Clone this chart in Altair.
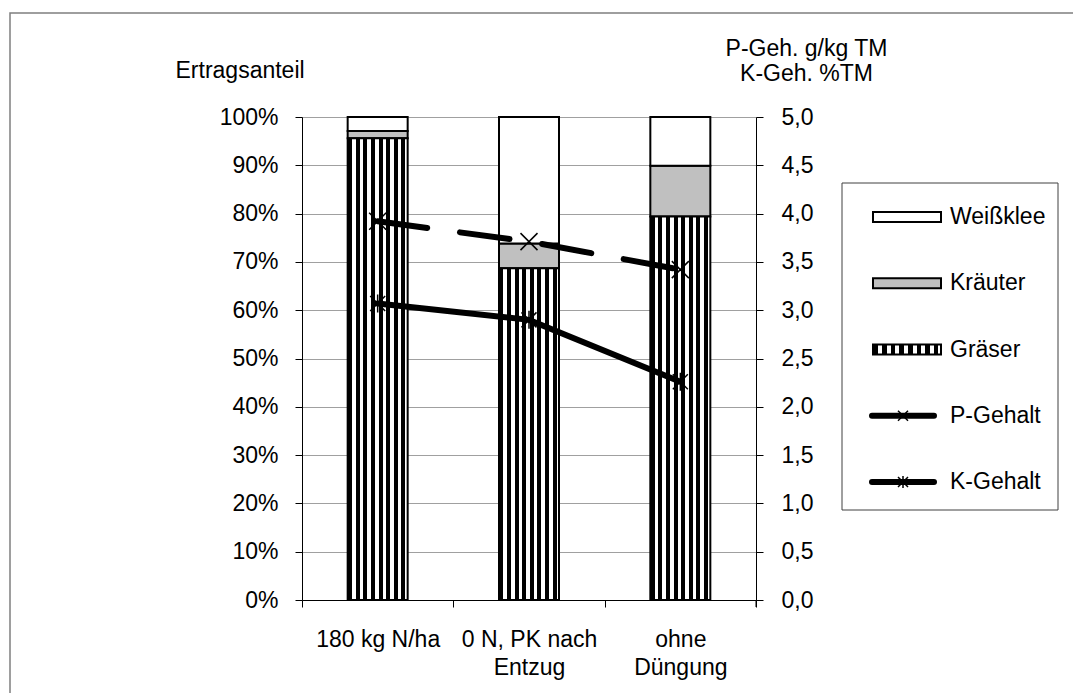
import altair as alt
import pandas as pd

# ---------------- data ----------------
categories = ["180 kg N/ha", "0 N, PK nach Entzug", "ohne Düngung"]
components = ["Gräser", "Kräuter", "Weißklee"]
graeser = [0.956, 0.687, 0.794]
kraeuter = [0.015, 0.051, 0.105]
weissklee = [0.029, 0.262, 0.101]
p_gehalt = [3.92, 3.71, 3.42]
k_gehalt = [3.07, 2.90, 2.26]
legend_items = ["Weißklee", "Kräuter", "Gräser", "P-Gehalt", "K-Gehalt"]
left_ticks = [0.0, 0.1, 0.2, 0.3, 0.4, 0.5, 0.6, 0.7, 0.8, 0.9, 1.0]
right_ticks = [0.0, 0.5, 1.0, 1.5, 2.0, 2.5, 3.0, 3.5, 4.0, 4.5, 5.0]

rows = []
for i, c in enumerate(categories):
    base = 0.0
    for comp, vals in zip(components, [graeser, kraeuter, weissklee]):
        rows.append({"cat": c, "comp": comp, "start": base, "end": base + vals[i]})
        base += vals[i]
bars_df = pd.DataFrame(rows)
lines_df = pd.DataFrame({"cat": categories, "P": p_gehalt, "K": k_gehalt})
leg_df = pd.DataFrame({"name": legend_items, "i": list(range(len(legend_items)))})
one = pd.DataFrame({"a": [0]})

# ---------------- styling ----------------
FONT = "Liberation Sans"
FS = 23
W, H = 454, 483
PAD = {"left": 302, "top": 117, "right": 1073 - 302 - W, "bottom": 693 - 117 - H}

stops = [alt.GradientStop(offset=0, color="white")]
for k in range(8):
    a = (0.5 + 7.6 * k) / 60
    b = (4.5 + 7.6 * k) / 60
    stops += [alt.GradientStop(offset=a, color="white"), alt.GradientStop(offset=a, color="black"),
              alt.GradientStop(offset=b, color="black"), alt.GradientStop(offset=b, color="white")]
stops.append(alt.GradientStop(offset=1, color="white"))
STRIPES = alt.LinearGradient(gradient="linear", stops=stops, x1=0, x2=1, y1=0, y2=0)

XSHAPE = "M-1,-1L1,1M-1,1L1,-1"
STAR = "M-1,-1L1,1M-1,1L1,-1M0,-1.2L0,1.2"
RECT = "M-1,-0.147L1,-0.147L1,0.147L-1,0.147Z"
LINE = "M-1,0L1,0"

label_expr = ("datum.value == '0 N, PK nach Entzug' ? ['0 N, PK nach', 'Entzug'] : "
              "datum.value == 'ohne Düngung' ? ['ohne', 'Düngung'] : datum.value")

X = alt.X("cat:N", sort=categories,
          scale=alt.Scale(domain=categories, paddingInner=0, paddingOuter=0),
          axis=alt.Axis(title=None, labelExpr=label_expr, labelAngle=0, tickBand="extent",
                        tickSize=7, labelPadding=21, labelLineHeight=28, grid=False,
                        labelLimit=300))

Y_left_axis = alt.Axis(format="%", values=left_ticks, orient="left", tickSize=7, labelPadding=17,
                       title="Ertragsanteil", titleAngle=0, titleAlign="left", titleBaseline="alphabetic",
                       titleX=-127, titleY=-40, grid=True, gridColor="#a0a0a0", labelOverlap=False)
Y_right_axis = alt.Axis(orient="right", values=right_ticks,
                        labelExpr="replace(format(datum.value, '.1f'), '.', ',')",
                        tickSize=7, labelPadding=18, title=["P-Geh. g/kg TM", "K-Geh. %TM"],
                        titleAngle=0, titleAlign="center", titleBaseline="alphabetic",
                        titleX=50, titleY=-62, titleLineHeight=25, grid=False, labelOverlap=False)

# ---------------- frame and legend box ----------------
frame = alt.Chart(one).mark_rect(fill="white", fillOpacity=0, stroke="#7f7f7f", strokeWidth=1.5).encode(
    x=alt.value(-292), x2=alt.value(790), y=alt.value(-104), y2=alt.value(600))
legbox = alt.Chart(one).mark_rect(fill="white", fillOpacity=0, stroke="#404040", strokeWidth=1).encode(
    x=alt.value(540), x2=alt.value(756), y=alt.value(66), y2=alt.value(393))

# ---------------- bars ----------------
bars_plain = alt.Chart(bars_df).transform_filter("datum.comp != 'Gräser'").mark_bar(
    size=60, stroke="black", strokeWidth=2).encode(
    x=X,
    y=alt.Y("start:Q", scale=alt.Scale(domain=[0, 1]), axis=Y_left_axis),
    y2="end:Q",
    fill=alt.Fill("comp:N", scale=alt.Scale(domain=["Kräuter", "Weißklee"], range=["#c0c0c0", "#ffffff"]),
                  legend=None))
bars_gras = alt.Chart(bars_df).transform_filter("datum.comp == 'Gräser'").mark_bar(
    size=60, stroke="black", strokeWidth=2, fill=STRIPES).encode(
    x=X,
    y=alt.Y("start:Q", scale=alt.Scale(domain=[0, 1]), axis=None),
    y2="end:Q")

# ---------------- lines ----------------
Yr = alt.Y("P:Q", scale=alt.Scale(domain=[0, 5]), axis=Y_right_axis)
p_line = alt.Chart(lines_df).mark_line(color="black", strokeWidth=6, strokeDash=[50, 33],
                                       strokeCap="round").encode(x=X, y=Yr)
k_line = alt.Chart(lines_df).mark_line(color="black", strokeWidth=6, strokeCap="round").encode(
    x=X, y=alt.Y("K:Q", scale=alt.Scale(domain=[0, 5]), axis=None))
p_mark = alt.Chart(lines_df).mark_point(shape=XSHAPE, size=289, filled=False, color="black",
                                        strokeWidth=1.5, opacity=1).encode(
    x=X, y=alt.Y("P:Q", scale=alt.Scale(domain=[0, 5]), axis=None))
k_mark = alt.Chart(lines_df).mark_point(shape=STAR, size=225, filled=False, color="black",
                                        strokeWidth=1.5, opacity=1).encode(
    x=X, y=alt.Y("K:Q", scale=alt.Scale(domain=[0, 5]), axis=None))

# ---------------- legend ----------------
Y_leg = alt.Y("i:Q", scale=alt.Scale(domain=[0, 4], range=[100, 365]), axis=None)
leg_rects = alt.Chart(leg_df).transform_filter(
    "datum.name == 'Weißklee' || datum.name == 'Kräuter'").mark_point(
    shape=RECT, size=68 * 68, filled=True, stroke="black", strokeWidth=2, opacity=1).encode(
    x=alt.value(605), y=Y_leg,
    fill=alt.Fill("name:N", scale=alt.Scale(domain=["Weißklee", "Kräuter"], range=["#ffffff", "#c0c0c0"]),
                  legend=None))
leg_gras = alt.Chart(leg_df).transform_filter("datum.name == 'Gräser'").mark_point(
    shape=RECT, size=68 * 68, fill=STRIPES, stroke="black", strokeWidth=2, opacity=1).encode(
    x=alt.value(605), y=Y_leg)
leg_lines = alt.Chart(leg_df).transform_filter("datum.i >= 3").mark_point(
    shape=LINE, size=62 * 62, filled=False, color="black", strokeWidth=6, strokeCap="round",
    opacity=1).encode(x=alt.value(601), y=Y_leg)
leg_pm = alt.Chart(leg_df).transform_filter("datum.name == 'P-Gehalt'").mark_point(
    shape=XSHAPE, size=100, filled=False, color="black", strokeWidth=1.5, opacity=1).encode(
    x=alt.value(601), y=Y_leg)
leg_km = alt.Chart(leg_df).transform_filter("datum.name == 'K-Gehalt'").mark_point(
    shape=STAR, size=100, filled=False, color="black", strokeWidth=1.5, opacity=1).encode(
    x=alt.value(601), y=Y_leg)
leg_text = alt.Chart(leg_df).mark_text(align="left", baseline="middle", font=FONT, fontSize=FS,
                                       color="black").encode(
    x=alt.value(648), y=Y_leg, text="name:N")

corner_tick = alt.Chart(one).mark_rule(color="black", strokeWidth=1).encode(
    x=alt.value(W), y=alt.value(H), y2=alt.value(H + 7))

chart = alt.layer(
    frame, legbox, bars_plain, bars_gras, k_line, p_line, p_mark, k_mark,
    leg_rects, leg_gras, leg_lines, leg_pm, leg_km, leg_text, corner_tick
).resolve_scale(y="independent").resolve_axis(y="independent").properties(
    width=W, height=H, padding=PAD, autosize=alt.AutoSizeParams(type="none"), background="white"
).configure_view(strokeWidth=0).configure_axis(
    labelFont=FONT, labelFontSize=FS, labelColor="black", titleFont=FONT, titleFontSize=FS,
    titleFontWeight="normal", titleColor="black", domainColor="black", tickColor="black",
    domainWidth=1, tickWidth=1
)

chart.save("out.html", embed_options={"renderer": "svg", "actions": False})
